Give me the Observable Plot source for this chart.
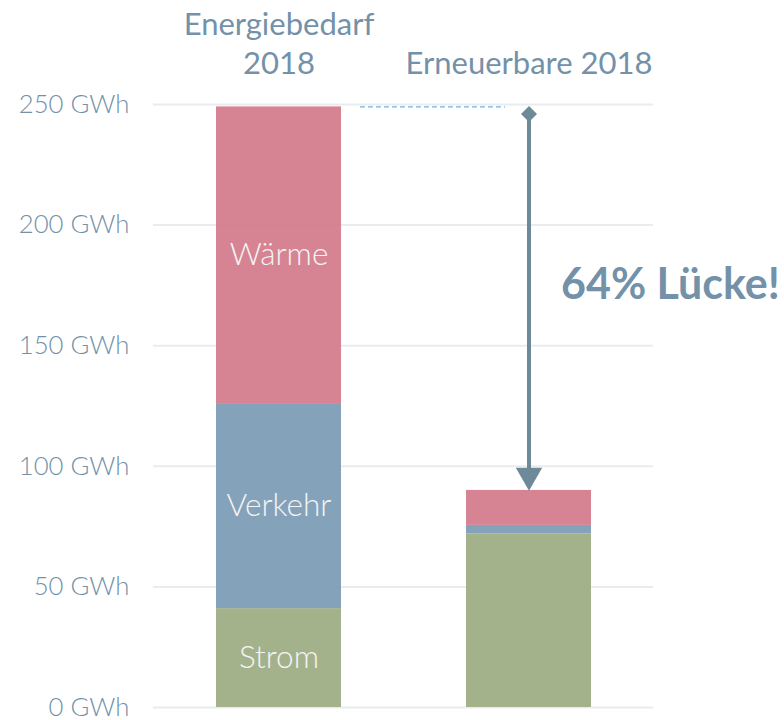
<!DOCTYPE html>
<html>
<head>
<meta charset="utf-8">
<script src="https://cdn.jsdelivr.net/npm/d3@7"></script>
<script src="https://cdn.jsdelivr.net/npm/@observablehq/plot@0.6"></script>
<style>
  html, body { margin: 0; padding: 0; background: #fff; }
  #chart { width: 784px; height: 720px; }
</style>
</head>
<body>
<div id="chart"></div>
<script>
// ---- data ----
const categories = ["Energiebedarf 2018", "Erneuerbare 2018"];
const titleLabels = ["Energiebedarf\n2018", "Erneuerbare 2018"];
const types = ["Strom", "Verkehr", "Wärme"];
const colors = ["#9cab82", "#7a9ab3", "#d27a8a"];
const bedarfValues = [41, 85, 123];        // Energiebedarf 2018 (GWh)
const erneuerbarValues = [72, 3.5, 14.5];  // Erneuerbare 2018 (GWh)
const yTicks = [0, 50, 100, 150, 200, 250];
const unit = " GWh";

// ---- derived tables ----
const rows = [];
types.forEach((t, i) => rows.push({cat: categories[0], type: t, value: bedarfValues[i]}));
types.forEach((t, i) => rows.push({cat: categories[1], type: t, value: erneuerbarValues[i]}));
const titles = categories.map((c, i) => ({cat: c, label: titleLabels[i]}));
const totalBedarf = d3.sum(bedarfValues);
const totalErneuerbar = d3.sum(erneuerbarValues);
const gapPct = Math.round((1 - totalErneuerbar / totalBedarf) * 100);
const gapLabel = `${gapPct}% Lücke!`;

const textColor = "#7391a9";
const arrowColor = "#6e8a99";

const chart = Plot.plot({
  width: 784,
  height: 720,
  marginLeft: 153,
  marginRight: 131,
  marginTop: 104,
  marginBottom: 13,
  style: {fontFamily: "Lato, 'Open Sans', sans-serif", background: "#fff", overflow: "visible"},
  x: {domain: categories, paddingInner: 0.5, paddingOuter: 0.25, axis: null},
  y: {domain: [0, 250], axis: null},
  color: {domain: types, range: colors},
  marks: [
    Plot.gridY(yTicks, {stroke: "#e9ecef", strokeOpacity: 1, strokeWidth: 2}),
    Plot.axisY(yTicks, {
      tickSize: 0, tickPadding: 24, fontSize: 25.7, fontWeight: 300,
      fill: textColor, tickFormat: d => d + unit, label: null
    }),
    Plot.barY(rows, {x: "cat", y: "value", fill: "type", fillOpacity: 0.92}),
    Plot.text(rows.filter(d => d.cat === categories[0]), Plot.stackY({
      x: "cat", y: "value", text: "type",
      fill: "#f4f4f4", fontSize: 31.5, fontWeight: 300
    })),
    // titles above the bars
    Plot.text(titles, {
      x: "cat", text: "label", frameAnchor: "top", lineAnchor: "bottom",
      dy: -31, fontSize: 31, lineHeight: 1.23, fill: textColor
    }),
    // dashed reference line at total demand
    Plot.ruleY([totalBedarf], {stroke: "#79b0d6", strokeDasharray: "5,3", strokeWidth: 1.2, insetLeft: 207, insetRight: 148}),
    // gap arrow
    Plot.ruleX([categories[1]], {x: d => d, y1: totalBedarf - 3, y2: totalErneuerbar + 8, stroke: arrowColor, strokeWidth: 4}),
    Plot.dot([categories[1]], {x: d => d, y: totalBedarf, dy: 7, symbol: "diamond2", r: 7.2, fill: arrowColor, stroke: "none"}),
    Plot.dot([categories[1]], {x: d => d, y: totalErneuerbar, dy: -15, symbol: "triangle", rotate: 180, r: 9.8, fill: arrowColor, stroke: "none"}),
    Plot.text([gapLabel], {
      x: () => categories[1], y: () => 175, text: d => d, dx: 32,
      textAnchor: "start", fontSize: 43, fontWeight: "bold", fill: textColor
    })
  ]
});
document.getElementById("chart").appendChild(chart);
</script>
</body>
</html>
